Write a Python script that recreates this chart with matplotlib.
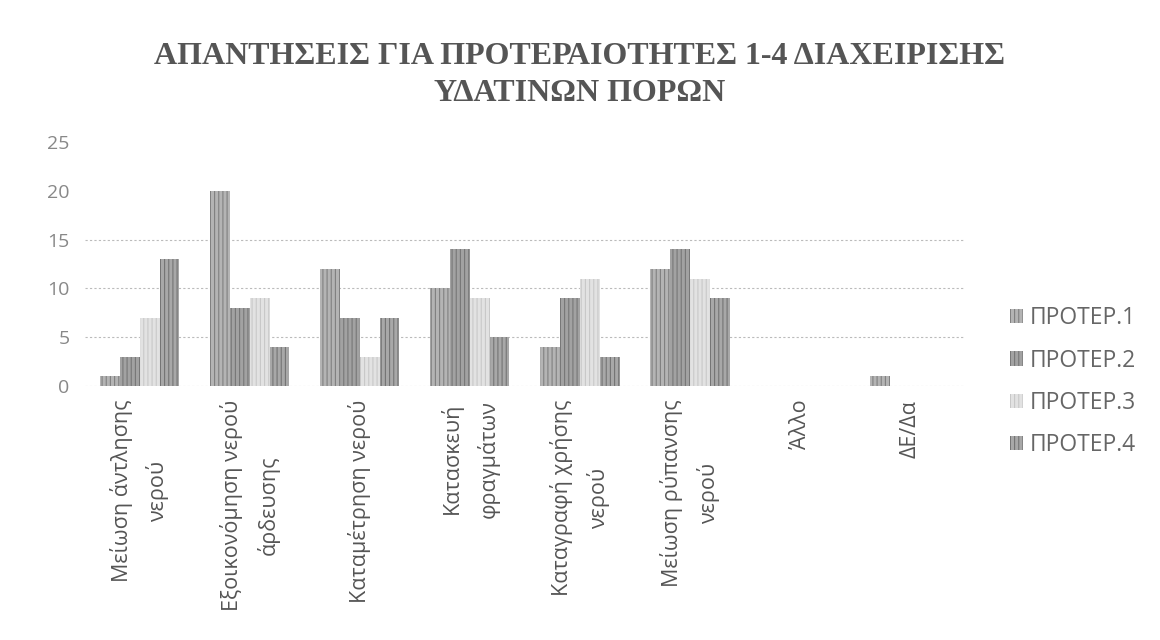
import matplotlib
matplotlib.use("Agg")
import matplotlib.pyplot as plt
import numpy as np

categories = ["Μείωση άντλησης\nνερού", "Εξοικονόμηση νερού\nάρδευσης", "Καταμέτρηση νερού",
              "Κατασκευή\nφραγμάτων", "Καταγραφή χρήσης\nνερού", "Μείωση ρύπανσης\nνερού",
              "Άλλο", "ΔΕ/Δα"]
series_names = ["ΠΡΟΤΕΡ.1", "ΠΡΟΤΕΡ.2", "ΠΡΟΤΕΡ.3", "ΠΡΟΤΕΡ.4"]
prot1 = [1, 20, 12, 10, 4, 12, 0, 1]
prot2 = [3, 8, 7, 14, 9, 14, 0, 0]
prot3 = [7, 9, 3, 9, 11, 11, 0, 0]
prot4 = [13, 4, 7, 5, 3, 9, 0, 0]
yticks = [0, 5, 10, 15, 20, 25]

plt.rcParams['font.family'] = ['Open Sans', 'DejaVu Sans']
plt.rcParams['hatch.linewidth'] = 0.8

fig = plt.figure(figsize=(11.6, 6.4), dpi=100)
ax = fig.add_axes([0.073, 0.397, 0.759, 0.381])

faces = ['#b4b4b4', '#a2a2a2', '#e2e2e2', '#a8a8a8']
hatchc = ['#808080', '#777777', '#c8c8c8', '#747474']
data = [prot1, prot2, prot3, prot4]
x = np.arange(len(categories))
w = 0.18
for i, (vals, name) in enumerate(zip(data, series_names)):
    ax.bar(x + (i - 1.5) * w, vals, width=w, color=faces[i], edgecolor=hatchc[i],
           hatch='||||', linewidth=0, label=name, zorder=3)

ax.set_xlim(-0.5, len(categories) - 0.5)
ax.set_ylim(0, 25)
ax.set_yticks(yticks)
ax.set_xticks(x)
ax.set_xticklabels(categories, rotation=90, ha='center', va='top', multialignment='center',
                   fontsize=15.5, color='#555555', linespacing=1.75)
ax.tick_params(axis='x', length=0, pad=10)
ax.tick_params(axis='y', length=0, pad=11, labelsize=14, labelcolor='#888888')
for s in ax.spines.values():
    s.set_visible(False)
ax.yaxis.grid(True, linestyle=(0, (2, 2)), color='#bbbbbb', linewidth=0.8, zorder=0)
for gl in ax.get_ygridlines()[4:]:
    gl.set_visible(False)

leg = ax.legend(loc='lower left', bbox_to_anchor=(1.04, -0.33), frameon=False,
                fontsize=16.5, labelspacing=0.8, handlelength=0.6, handleheight=0.6,
                handletextpad=0.3, borderaxespad=0.0)
for t in leg.get_texts():
    t.set_color('#666666')

fig.text(0.5, 0.935, "ΑΠΑΝΤΗΣΕΙΣ ΓΙΑ ΠΡΟΤΕΡΑΙΟΤΗΤΕΣ 1-4 ΔΙΑΧΕΙΡΙΣΗΣ\nΥΔΑΤΙΝΩΝ ΠΟΡΩΝ",
         ha='center', va='top', fontsize=23, fontweight='bold', color='#555555',
         family=['Liberation Serif', 'DejaVu Serif'], linespacing=1.4)

fig.savefig("out.png", dpi=100)
